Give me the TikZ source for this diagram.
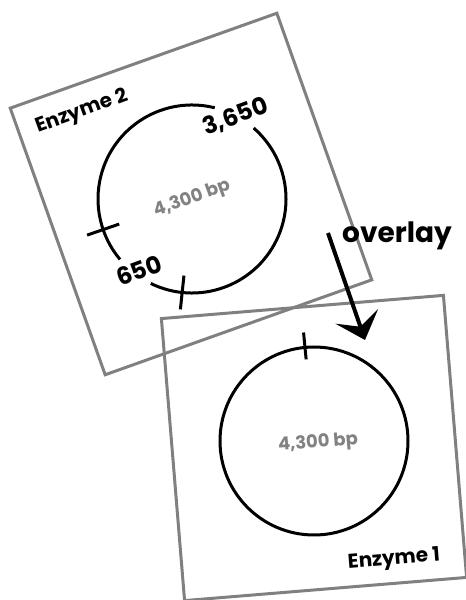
\documentclass[tikz,border=0pt]{standalone}
\usepackage{fontspec}
\setmainfont{Poppins}
\usetikzlibrary{arrows.meta,positioning,calc}
\definecolor{frameGray}{RGB}{128,128,128}
\definecolor{textGray}{RGB}{130,130,130}

\begin{document}
\begin{tikzpicture}[x=1pt, y=1pt, >={Stealth[length=25pt,width=45pt,inset=11pt]}]

%local definitions
\tikzstyle{Frame} = [draw=frameGray, line width=3pt, rectangle, minimum size=283pt, inner sep=0pt]
\tikzstyle{Ring} = [line width=3pt]
\tikzstyle{Cut} = [line width=3pt]
\tikzstyle{SizeLabel} = [text=textGray, font=\bfseries\fontsize{18}{18}\selectfont]
\tikzstyle{CutLabel} = [font=\bfseries\fontsize{24}{24}\selectfont]
\tikzstyle{EnzymeLabel} = [font=\bfseries\fontsize{20}{20}\selectfont]

\useasboundingbox (0,0) rectangle (466,600);

%frames
	\node [Frame, rotate=19.6] (frameTwo) at (191,406) {};
	\node [Frame, rotate=4.7] (frameOne) at (314,152) {};
	\coordinate (ringTwo) at (192,401);
	\coordinate (ringOne) at (314,159);

%plasmids
	\draw [Ring] ($(ringTwo)+(76:94)$) arc[start angle=76, end angle=220, radius=94];
	\draw [Ring] ($(ringTwo)+(244:94)$) arc[start angle=244, end angle=409, radius=94];
	\draw [Ring] (ringOne) circle (94);

	%cut sites
	\draw [Cut, shift={(ringTwo)}] (199:77) -- (199:111);
	\draw [Cut, shift={(ringTwo)}] (264:77) -- (264:111);
	\draw [Cut, shift={(ringOne)}] (95.5:82) -- (95.5:109);

%labels
	\node [EnzymeLabel, rotate=20] (nameTwo) at (82,488) {Enzyme 2};
	\node [CutLabel, rotate=20] (cutHigh) at ($(ringTwo)+(62:93)$) {3,650};
	\node [CutLabel, rotate=20] (cutLow) at ($(ringTwo)+(233.6:89)$) {650};
	\node [SizeLabel, rotate=20] (sizeTwo) at (ringTwo) {4,300 bp};
	\node [SizeLabel, rotate=4.7] (sizeOne) at (318,157) {4,300 bp};
	\node [EnzymeLabel, rotate=4.7] (nameOne) at (394,40) {Enzyme 1};
	\node [CutLabel, font=\bfseries\fontsize{28}{28}\selectfont, anchor=base] (overlayText) at (397,357) {overlay};

%connection
	\coordinate (arrowStart) at (328,367);
	\coordinate (arrowEnd) at (365,260);
	\draw [->, line width=4pt] (arrowStart) -- (arrowEnd);

\end{tikzpicture}
\end{document}
